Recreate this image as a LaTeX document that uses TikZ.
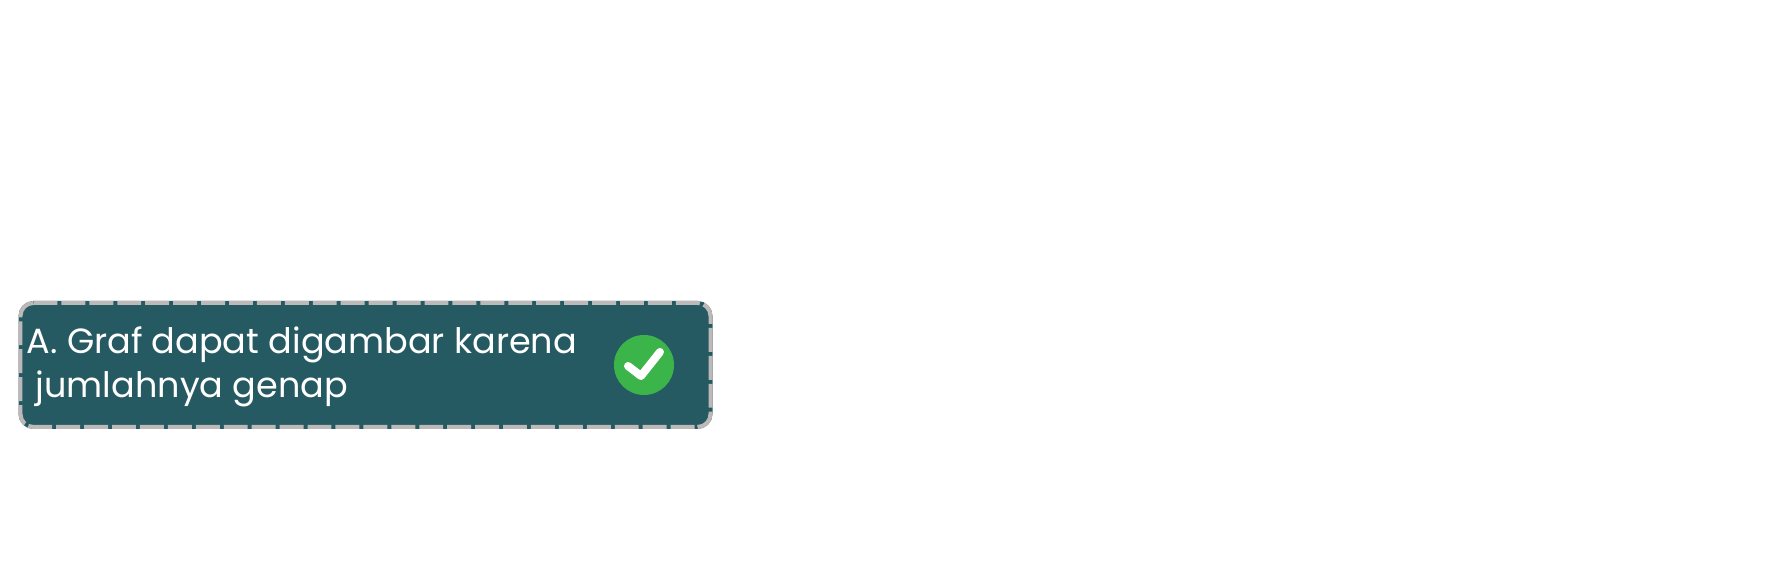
\documentclass[tikz,border=0pt]{standalone}
\usepackage{fontspec}
\setmainfont{Poppins}
\usetikzlibrary{positioning}
\definecolor{boxTeal}{RGB}{38,90,99}
\definecolor{edgeGray}{RGB}{189,185,185}
\definecolor{okGreen}{RGB}{59,181,74}

\begin{document}
\begin{tikzpicture}[
	answerbox/.style={
		rectangle,
		rounded corners=0.13cm,
		fill=boxTeal,
		draw=boxTeal,
		line width=0.04cm,
		minimum width=6.90cm,
		minimum height=1.24cm,
		outer sep=0pt,
		inner sep=0pt
	},
	answeredge/.style={
		edgeGray,
		rounded corners=0.13cm,
		line width=0.04cm,
		dash pattern=on 0.2393cm off 0.04cm
	},
	answertext/.style={
		align=left,
		font=\fontsize{9.97pt}{12.5pt}\selectfont,
		text=white,
		inner sep=0pt
	},
	okdisc/.style={
		circle,
		fill=okGreen,
		minimum size=0.6cm,
		inner sep=0pt
	},
	okmark/.style={
		white,
		line width=0.08cm,
		line cap=round,
		line join=round
	}
	]
	
	\useasboundingbox (0,0) rectangle (17.86,5.78);
	
	% Answer box
	\node[answerbox] (box) at (3.655,2.13) {};
	
	% Dashed edge, one run per side
	\draw[answeredge] ([xshift=0.13cm]box.north west) -- (box.north east) -- ([yshift=-0.13cm]box.north east);
	\draw[answeredge, dash phase=0.16cm] ([yshift=-0.13cm]box.north east) -- (box.south east) -- ([xshift=-0.13cm]box.south east);
	\draw[answeredge, dash phase=0.25cm] ([xshift=-0.13cm]box.south east) -- (box.south west) -- ([yshift=0.13cm]box.south west);
	\draw[answeredge, dash phase=0.15cm] ([yshift=0.13cm]box.south west) -- (box.north west) -- ([xshift=0.13cm]box.north west);
	
	% Answer text
	\node[answertext, anchor=west] (answer) at (0.26,2.11) {A. Graf dapat digambar karena\\\hspace*{0.09cm}jumlahnya genap};
	
	% Check mark
	\node[okdisc] (disc) at (6.44,2.13) {};
	\draw[okmark] (6.28,2.12) -- (6.41,2.02) -- (6.60,2.26);
	
\end{tikzpicture}
\end{document}
